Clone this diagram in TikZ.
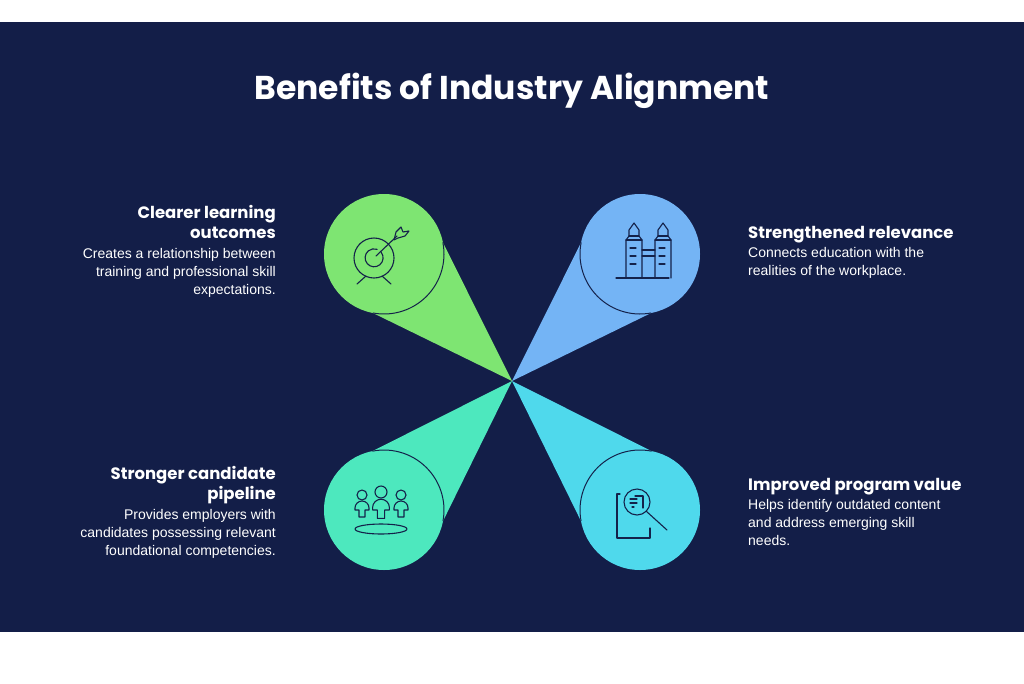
\documentclass[tikz,border=0pt]{standalone}
\usepackage{fontspec}
\setmainfont{Liberation Sans}
\newfontfamily\hfont{Poppins}
\usetikzlibrary{calc}
\definecolor{bg}{HTML}{131E48}
\definecolor{cA}{HTML}{7EE572}
\definecolor{cB}{HTML}{74B4F5}
\definecolor{cC}{HTML}{4DE8BE}
\definecolor{cD}{HTML}{4FD9EC}
\definecolor{ink}{HTML}{14224A}
\begin{document}
\begin{tikzpicture}[x=1pt,y=-1pt,
  circ/.style={circle,minimum size=120pt,inner sep=0pt},
  icon/.style={draw=ink,line width=1.1pt,line join=round,line cap=round},
  head/.style={font=\hfont\bfseries\fontsize{16.5}{20}\selectfont,text=white,inner sep=0pt},
  body/.style={font=\fontsize{14}{18}\selectfont,text=white,inner sep=0pt}]
\useasboundingbox (0,0) rectangle (1024,683);
\fill[bg] (0,22) rectangle (1024,632);
\node[font=\hfont\bfseries\fontsize{33}{36}\selectfont,text=white] (title) at (512,91) {Benefits of Industry Alignment};
\coordinate (o) at (512,381);
\foreach \n/\x/\y/\c/\p in {a/384/254/cA/44.78,b/640/254/cB/135.22,c/384/510/cC/-45.22,d/640/510/cD/-134.78}{
  \node[circ] (\n) at (\x,\y) {};
  \coordinate (\n1) at ($(\n)+(\p-56:60)$);
  \coordinate (\n2) at ($(\n)+(\p+56:60)$);
  \fill[\c] (o) -- (\n1) -- (\n2) -- cycle;
  \fill[\c] (\n) circle (60);
  \draw[ink,line width=1pt] (\n1) arc[start angle=\p-56,end angle=\p+56,radius=60];
}
% target icon
\draw[icon] (374,258) circle (20);
\draw[icon] (381,252) arc[start angle=-40,end angle=290,radius=9];
\draw[icon] (366,276) -- (357,284) (382,276) -- (391,284);
\draw[icon] (376,256) -- (397,236);
\draw[icon] (394,240) -- (396,232) -- (401,227) -- (403,232) -- (409,231) -- (405,236) -- (398,238) -- cycle;
% buildings icon
\foreach \bx in {626,655}{
  \draw[icon] (\bx,278) -- (\bx,240) -- (\bx+3,236) -- (\bx+3,230) -- (\bx+8,223) -- (\bx+13,230) -- (\bx+13,236) -- (\bx+16,240) -- (\bx+16,278);
  \draw[icon] (\bx+3,236) -- (\bx+13,236) (\bx,240) -- (\bx+16,240);
  \foreach \ly in {248,256,264}{\draw[icon] (\bx+4,\ly) -- (\bx+10,\ly);}
}
\draw[icon] (642,250) -- (655,250) (642,256) -- (655,256);
\draw[icon] (616,278) -- (669,278);
% people icon
\foreach \px/\py/\s in {362/495/1,381/492/1.2,401/495/1}{
  \draw[icon] (\px,\py) circle (5*\s);
  \draw[icon] (\px-3*\s,\py+22*\s) -- (\px-3*\s,\py+15*\s) -- (\px-7*\s,\py+15*\s) -- (\px-7*\s,\py+13*\s) arc[start angle=180,end angle=360,radius=7*\s] -- (\px+7*\s,\py+15*\s) -- (\px+3*\s,\py+15*\s) -- (\px+3*\s,\py+22*\s) -- cycle;
}
\draw[icon] (381,529) ellipse (26 and 5);
% document + magnifier icon
\draw[icon] (620,494) -- (617,494) -- (617,538) -- (650,538) -- (650,528);
\draw[icon] (637,502) circle (13);
\draw[icon] (646,511) -- (667,530);
\draw[icon] (635,496) -- (643,496) -- (643,508) (630,499) -- (637,499) (630,503) -- (637,503) (632,507) -- (634,507);
% texts
\node[head,align=right,anchor=north east] (ta) at (276,205) {Clearer learning\\outcomes};
\node[body,align=right,anchor=north east] (ba) at (276,248) {Creates a relationship between\\training and professional skill\\expectations.};
\node[head,align=left,anchor=north west] (tb) at (748,226) {Strengthened relevance};
\node[body,align=left,anchor=north west] (bb) at (748,247) {Connects education with the\\realities of the workplace.};
\node[head,align=right,anchor=north east] (tc) at (276,466) {Stronger candidate\\pipeline};
\node[body,align=right,anchor=north east] (bc) at (276,509) {Provides employers with\\candidates possessing relevant\\foundational competencies.};
\node[head,align=left,anchor=north west] (td) at (748,478) {Improved program value};
\node[body,align=left,anchor=north west] (bd) at (748,499) {Helps identify outdated content\\and address emerging skill\\needs.};
\end{tikzpicture}
\end{document}
